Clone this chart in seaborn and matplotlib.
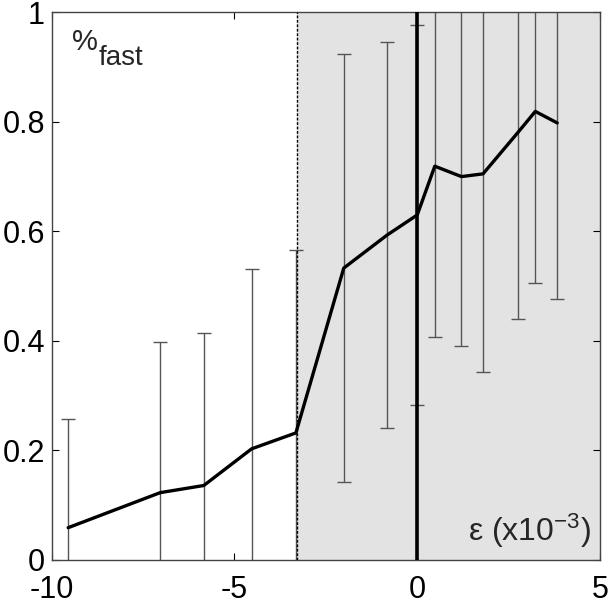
import numpy as np
import pandas as pd
import matplotlib
matplotlib.use('Agg')
import matplotlib.pyplot as plt
import seaborn as sns

sns.set_style('ticks')
plt.rcParams['font.family'] = ['Liberation Sans', 'DejaVu Sans']
plt.rcParams['mathtext.fontset'] = 'custom'
plt.rcParams['mathtext.rm'] = 'Liberation Sans'
plt.rcParams['mathtext.it'] = 'Liberation Sans:italic'

# strain (x10^-3) and fraction of fast events
eps = [-9.55, -7.03, -5.84, -4.53, -3.32, -2.01, -0.83, 0.0,
       0.48, 1.21, 1.80, 2.76, 3.23, 3.83]
frac_fast = [0.059, 0.123, 0.136, 0.203, 0.232, 0.533, 0.593, 0.630,
             0.719, 0.700, 0.705, 0.781, 0.819, 0.798]
err = [0.199, 0.275, 0.278, 0.328, 0.334, 0.390, 0.352, 0.347,
       0.311, 0.309, 0.362, 0.341, 0.313, 0.321]

threshold = -3.3
df = pd.DataFrame({'eps': eps, 'frac': frac_fast, 'err': err})

fig = plt.figure(figsize=(6.1, 6.05), dpi=100)
ax = fig.add_axes([0.0848, 0.0744, 0.8988, 0.9053])

# shaded region right of the threshold
ax.axvspan(threshold, 5, color='#e3e3e3', zorder=0, lw=0)
ax.axvline(threshold, color='black', ls='--', lw=1.0, dashes=(2, 1.2), zorder=3)

# error bars
ax.errorbar(df['eps'], df['frac'], yerr=df['err'], fmt='none',
            ecolor='#555555', elinewidth=1.0, capsize=5, capthick=1.0, zorder=2)

ax.axvline(0, color='black', lw=2.6, zorder=4)

sns.lineplot(data=df, x='eps', y='frac', color='black', lw=2.4, ax=ax,
             zorder=5, sort=False)

ax.set_xlim(-10, 5)
ax.set_ylim(0, 1)
ax.set_xticks([-10, -5, 0, 5])
ax.set_xticklabels(['-10', '-5', '0', '5'])
ax.set_yticks([0, 0.2, 0.4, 0.6, 0.8, 1])
ax.set_yticklabels(['0', '0.2', '0.4', '0.6', '0.8', '1'])
ax.set_xlabel('')
ax.set_ylabel('')
ax.tick_params(direction='in', top=True, right=True, length=5, width=0.8,
               labelsize=22, colors='black')
ax.tick_params(axis='x', pad=11)
ax.tick_params(axis='y', pad=5)
for s in ax.spines.values():
    s.set_color('#444444')
    s.set_linewidth(1.0)

ax.text(-9.44, 0.931, '%', fontsize=21, ha='left', va='baseline')
ax.text(-8.72, 0.904, 'fast', fontsize=20, ha='left', va='baseline')
ax.text(4.75, 0.035, r'ε (x10$^{-3}$)', fontsize=23, ha='right', va='baseline')

fig.savefig('out.png', dpi=100)
